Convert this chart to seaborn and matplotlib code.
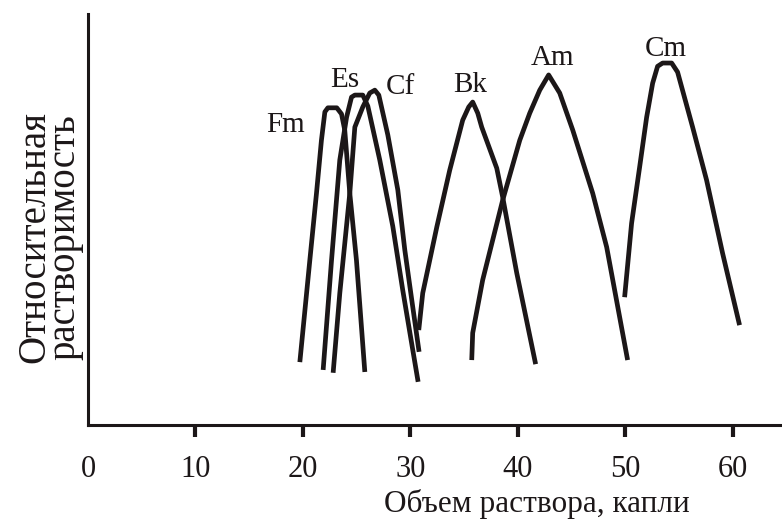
import numpy as np
import pandas as pd
import matplotlib.pyplot as plt
import seaborn as sns

# Relative solubility curves vs. titrant volume (drops)
fm_x = [19.72, 20.65, 21.27, 21.73, 22.05, 22.33, 23.16, 23.60, 23.90, 24.37, 24.99, 25.77]
fm_y = [15.3, 40.1, 56.4, 69.3, 76.2, 77.2, 77.2, 75.7, 71.8, 56.4, 40.1, 12.9]

es_x = [21.89, 22.67, 23.44, 24.07, 24.53, 24.84, 25.58, 26.05, 27.16, 28.37, 29.30, 30.73]
es_y = [13.4, 40.1, 64.5, 74.9, 79.8, 80.3, 80.3, 77.6, 64.5, 48.4, 32.8, 10.5]

cf_x = [22.82, 23.44, 24.37, 24.84, 25.58, 26.23, 26.70, 27.07, 27.91, 28.84, 29.49, 30.14, 30.82]
cf_y = [12.7, 32.1, 56.4, 72.5, 77.4, 80.8, 81.5, 80.3, 70.6, 57.2, 42.6, 30.4, 17.8]

bk_x = [30.79, 31.16, 32.47, 33.67, 34.88, 35.44, 35.81, 36.28, 36.65, 38.05, 38.60, 39.91, 41.67]
bk_y = [23.1, 32.1, 48.2, 62.0, 74.2, 77.4, 78.6, 75.9, 72.5, 62.5, 55.5, 37.0, 14.8]

am_x = [35.72, 35.81, 36.74, 38.60, 40.19, 41.12, 42.05, 42.88, 43.91, 45.12, 46.98, 48.28, 50.23]
am_y = [15.8, 22.4, 35.3, 54.7, 69.3, 75.9, 81.5, 85.2, 80.8, 71.8, 56.4, 43.3, 15.8]

cm_x = [49.95, 50.60, 51.35, 52.00, 52.56, 53.02, 53.49, 54.33, 54.88, 56.28, 57.58, 59.07, 60.65]
cm_y = [31.1, 49.1, 62.8, 74.9, 83.2, 87.3, 88.1, 88.1, 85.9, 72.5, 59.6, 41.8, 24.3]

curve_names = ["Fm", "Es", "Cf", "Bk", "Am", "Cm"]
label_x = [18.42, 23.9, 29.1, 35.6, 43.2, 53.8]
label_y = [71.3, 82.2, 80.5, 81.0, 87.6, 89.8]

x_ticks = [0, 10, 20, 30, 40, 50, 60]

curves = {
    "Fm": (fm_x, fm_y), "Es": (es_x, es_y), "Cf": (cf_x, cf_y),
    "Bk": (bk_x, bk_y), "Am": (am_x, am_y), "Cm": (cm_x, cm_y),
}
df = pd.concat(
    [pd.DataFrame({"volume": xs, "solubility": ys, "curve": name})
     for name, (xs, ys) in curves.items()],
    ignore_index=True,
)

sns.set_theme(style="white")
plt.rcParams["font.family"] = ["Liberation Serif", "DejaVu Serif"]
ink = "#1c1718"

fig = plt.figure(figsize=(7.82, 5.24), dpi=100)
ax = fig.add_axes([0.1125, 0.189, 0.8875, 0.784])

sns.lineplot(data=df, x="volume", y="solubility", units="curve", estimator=None,
             sort=False, color=ink, linewidth=3.4, ax=ax,
             solid_joinstyle="round", solid_capstyle="butt")

for name, lx, ly in zip(curve_names, label_x, label_y):
    ax.text(lx, ly, name, ha="center", va="baseline", fontsize=21, color=ink)

ax.set_xlim(0, 64.6)
ax.set_ylim(0, 100)
ax.set_xticks(x_ticks)
ax.set_xticklabels([str(t) for t in x_ticks])
ax.set_yticks([])
ax.tick_params(axis="x", direction="out", length=8.5, width=3, color=ink,
               labelsize=22, labelcolor=ink, pad=13, bottom=True)
ax.xaxis.get_major_ticks()[0].tick1line.set_visible(False)

sns.despine(ax=ax)
for side in ["left", "bottom"]:
    ax.spines[side].set_linewidth(2.2)
    ax.spines[side].set_color(ink)

ax.set_xlabel("Объем раствора, капли", fontsize=22.5, color=ink)
ax.xaxis.set_label_coords(0.647, -0.155)
ax.set_ylabel("Относительная\nрастворимость", fontsize=28, color=ink, linespacing=0.74)
ax.yaxis.set_label_coords(-0.007, 0.457)

fig.savefig("out.png", dpi=100)
